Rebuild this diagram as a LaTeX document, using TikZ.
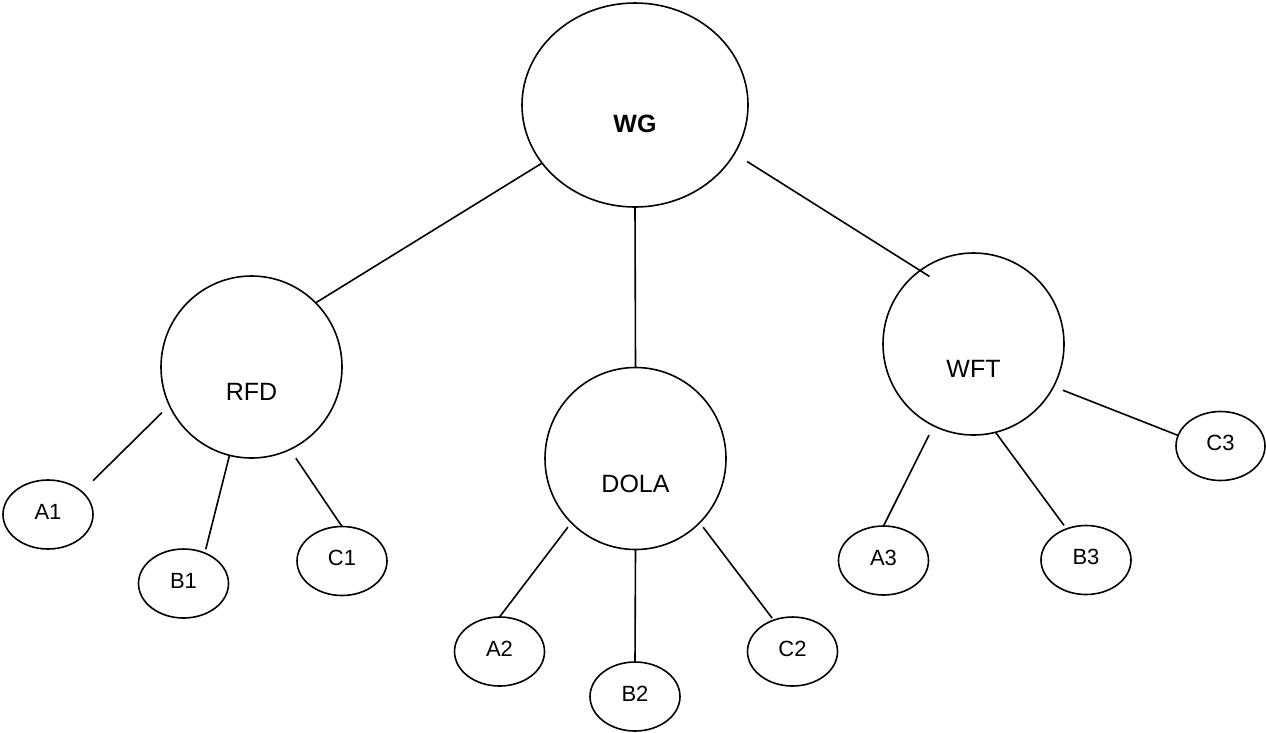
\documentclass[tikz,border=0pt]{standalone}
\usepackage{fontspec}
\setmainfont{Liberation Sans}
\usetikzlibrary{shapes.geometric}
\begin{document}
\begin{tikzpicture}[x=1pt,y=-1pt,
  bubble/.style={draw, ellipse, inner sep=0pt, outer sep=0pt, line width=1.6pt},
  bigbubble/.style={bubble, minimum width=181pt, minimum height=182pt},
  smallbubble/.style={bubble, minimum width=90pt, minimum height=69pt},
  bigtxt/.style={font=\fontsize{25}{30}\selectfont, inner sep=0pt, yshift=-25pt},
  smalltxt/.style={font=\fontsize{22}{26}\selectfont, inner sep=0pt, yshift=3pt},
  conn/.style={line width=1.6pt}]
\useasboundingbox (0,0) rectangle (1266,732);

\node[bubble, minimum width=226pt, minimum height=204pt,
  label={[font=\fontsize{25}{30}\selectfont\bfseries, inner sep=0pt, yshift=-19pt]center:WG}] (WG) at (635,105) {};
\node[bigbubble, label={[bigtxt]center:RFD}] (RFD) at (251.5,367) {};
\node[bigbubble, label={[bigtxt]center:DOLA}] (DOLA) at (635.5,458.5) {};
\node[bigbubble, label={[bigtxt]center:WFT}] (WFT) at (973.5,344) {};

\node[smallbubble, label={[smalltxt]center:A1}] (A1) at (48,514.5) {};
\node[smallbubble, label={[smalltxt]center:B1}] (B1) at (183.5,583.5) {};
\node[smallbubble, label={[smalltxt]center:C1}] (C1) at (342,561) {};
\node[smallbubble, label={[smalltxt]center:A2}] (A2) at (499.5,651.5) {};
\node[smallbubble, label={[smalltxt]center:B2}] (B2) at (635,696.5) {};
\node[smallbubble, label={[smalltxt]center:C2}] (C2) at (792.5,651.5) {};
\node[smallbubble, label={[smalltxt]center:A3}] (A3) at (883.5,560.5) {};
\node[smallbubble, label={[smalltxt]center:B3}] (B3) at (1086,560) {};
\node[smallbubble, minimum width=89pt, label={[smalltxt]center:C3}] (C3) at (1220.5,446) {};

\draw[conn] (WG.212) -- (RFD.45);
\draw[conn] (WG.south) -- (DOLA.north);
\draw[conn, shorten <=15pt, shorten >=-11pt] (WG.334) -- (WFT.126);

\draw[conn, shorten <=10.5pt, shorten >=15.7pt] (RFD.205) -- (A1.34);
\draw[conn, shorten >=4pt] (RFD.256) -- (B1.55);
\draw[conn, shorten <=10.6pt] (RFD.295) -- (C1.north);

\draw[conn, shorten <=5.7pt] (DOLA.225) -- (A2.north);
\draw[conn] (DOLA.south) -- (B2.north);
\draw[conn, shorten <=5.7pt, shorten >=2.6pt] (DOLA.315) -- (C2.121);

\draw[conn, shorten <=10.5pt] (WFT.244) -- (A3.north);
\draw[conn, shorten >=4.3pt] (WFT.284) -- (B3.122);
\draw[conn, shorten <=10pt] (WFT.332) -- (C3.166);
\end{tikzpicture}
\end{document}
